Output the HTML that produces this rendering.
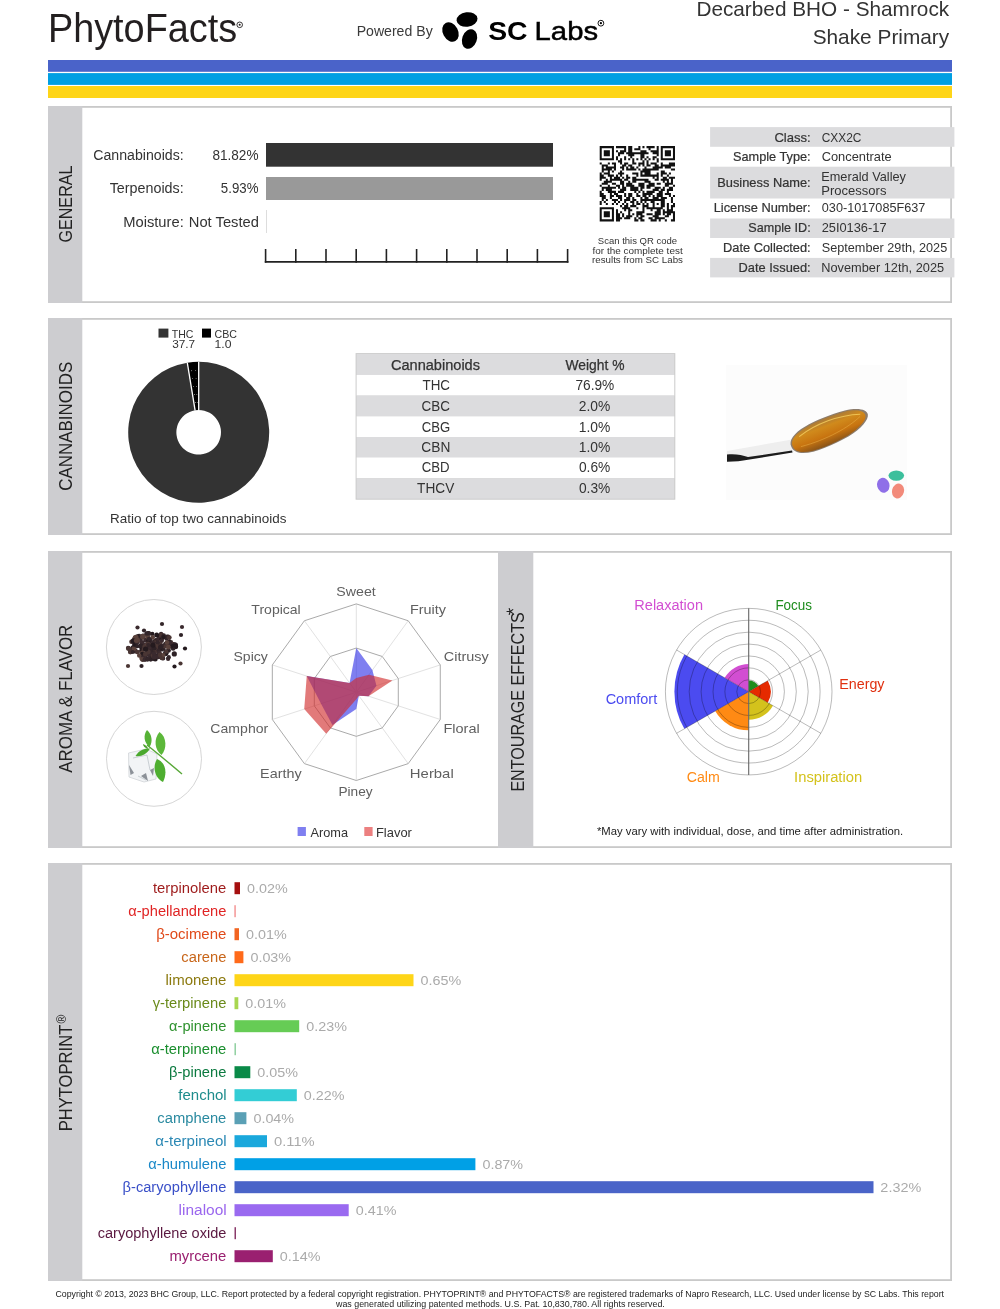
<!DOCTYPE html>
<html><head><meta charset="utf-8"><title>PhytoFacts</title>
<style>
html,body{margin:0;padding:0;background:#fff;width:1000px;height:1309px;overflow:hidden;}
svg{display:block;font-family:"Liberation Sans", sans-serif;will-change:transform;}
</style></head><body>
<svg width="1000" height="1309" viewBox="0 0 1000 1309">
<rect x="0" y="0" width="1000" height="1309" fill="#fff"/>
<text x="47.90" y="41.80" font-size="39.86" fill="#231f20" textLength="189.27" lengthAdjust="spacingAndGlyphs" >PhytoFacts</text>
<circle cx="239.7" cy="24.8" r="2.8" fill="none" stroke="#231f20" stroke-width="0.9"/><circle cx="239.7" cy="24.8" r="1.0" fill="#231f20"/>
<text x="356.64" y="35.70" font-size="14.49" fill="#3a3a3a" textLength="76.09" lengthAdjust="spacingAndGlyphs" >Powered By</text>
<g fill="#000"><ellipse cx="467" cy="19.5" rx="10.5" ry="7.3" transform="rotate(-6 467 19.5)"/><ellipse cx="450.5" cy="32" rx="7.6" ry="10.3" transform="rotate(-28 450.5 32)"/><ellipse cx="469.5" cy="39" rx="7.3" ry="10" transform="rotate(20 469.5 39)"/></g>
<text x="488.18" y="40.10" font-size="26.38" fill="#000" font-weight="bold" textLength="39.39" lengthAdjust="spacingAndGlyphs" >SC</text>
<text x="534.60" y="40.10" font-size="26.38" fill="#000" textLength="63.46" lengthAdjust="spacingAndGlyphs"  stroke="#000" stroke-width="0.5">Labs</text>
<circle cx="600.9" cy="23.2" r="2.9" fill="none" stroke="#000" stroke-width="0.9"/><circle cx="600.9" cy="23.2" r="1.1" fill="#000"/>
<text x="696.40" y="15.70" font-size="20.87" fill="#333" textLength="252.77" lengthAdjust="spacingAndGlyphs" >Decarbed BHO - Shamrock</text>
<text x="812.65" y="43.70" font-size="20.87" fill="#333" textLength="136.59" lengthAdjust="spacingAndGlyphs" >Shake Primary</text>
<rect x="48.00" y="60.00" width="904.00" height="11.80" fill="#4a63c9" />
<rect x="48.00" y="73.10" width="904.00" height="11.80" fill="#009fe3" />
<rect x="48.00" y="86.00" width="904.00" height="12.00" fill="#fed518" />
<rect x="48.00" y="106.00" width="904.00" height="197.00" fill="#c9c9c9" />
<rect x="49.80" y="107.80" width="900.40" height="193.40" fill="#fff" />
<rect x="48.00" y="106.00" width="34.30" height="197.00" fill="#cdcdd0" />
<text transform="translate(72.20,242.61) rotate(-90)" x="0" y="0" font-size="18.99" fill="#222" textLength="77.15" lengthAdjust="spacingAndGlyphs">GENERAL</text>
<text x="93.28" y="159.60" font-size="13.91" fill="#333" textLength="90.41" lengthAdjust="spacingAndGlyphs" >Cannabinoids:</text>
<text x="212.41" y="159.60" font-size="13.91" fill="#333" textLength="46.07" lengthAdjust="spacingAndGlyphs" >81.82%</text>
<text x="109.68" y="193.00" font-size="13.91" fill="#333" textLength="74.03" lengthAdjust="spacingAndGlyphs" >Terpenoids:</text>
<text x="220.87" y="193.00" font-size="13.91" fill="#333" textLength="37.60" lengthAdjust="spacingAndGlyphs" >5.93%</text>
<text x="123.19" y="226.60" font-size="13.91" fill="#333" textLength="60.55" lengthAdjust="spacingAndGlyphs" >Moisture:</text>
<text x="188.79" y="226.60" font-size="13.91" fill="#333" textLength="70.16" lengthAdjust="spacingAndGlyphs" >Not Tested</text>
<rect x="266.00" y="143.00" width="287.00" height="23.70" fill="#333333" />
<rect x="266.00" y="177.00" width="287.00" height="23.00" fill="#999999" />
<rect x="266.00" y="210.00" width="1.00" height="23.00" fill="#dddddd" />
<g stroke="#222" stroke-width="1.6" fill="none">
<line x1="264.8" y1="261.9" x2="568.4" y2="261.9"/>
<line x1="265.60" y1="249" x2="265.60" y2="262.7"/>
<line x1="295.80" y1="249" x2="295.80" y2="262.7"/>
<line x1="326.00" y1="249" x2="326.00" y2="262.7"/>
<line x1="356.20" y1="249" x2="356.20" y2="262.7"/>
<line x1="386.40" y1="249" x2="386.40" y2="262.7"/>
<line x1="416.60" y1="249" x2="416.60" y2="262.7"/>
<line x1="446.80" y1="249" x2="446.80" y2="262.7"/>
<line x1="477.00" y1="249" x2="477.00" y2="262.7"/>
<line x1="507.20" y1="249" x2="507.20" y2="262.7"/>
<line x1="537.40" y1="249" x2="537.40" y2="262.7"/>
<line x1="567.60" y1="249" x2="567.60" y2="262.7"/>
</g>
<path fill="#111" d="M599.70 146.10h14.25v2.04h-14.25zM615.98 146.10h10.18v2.04h-10.18zM628.19 146.10h4.07v2.04h-4.07zM638.37 146.10h2.04v2.04h-2.04zM642.44 146.10h2.04v2.04h-2.04zM646.51 146.10h8.14v2.04h-8.14zM656.68 146.10h2.04v2.04h-2.04zM660.75 146.10h14.25v2.04h-14.25zM599.70 148.14h2.04v2.04h-2.04zM611.91 148.14h2.04v2.04h-2.04zM624.12 148.14h2.04v2.04h-2.04zM628.19 148.14h4.07v2.04h-4.07zM634.30 148.14h6.11v2.04h-6.11zM648.54 148.14h2.04v2.04h-2.04zM656.68 148.14h2.04v2.04h-2.04zM660.75 148.14h2.04v2.04h-2.04zM672.96 148.14h2.04v2.04h-2.04zM599.70 150.17h2.04v2.04h-2.04zM603.77 150.17h6.11v2.04h-6.11zM611.91 150.17h2.04v2.04h-2.04zM615.98 150.17h2.04v2.04h-2.04zM620.05 150.17h6.11v2.04h-6.11zM628.19 150.17h4.07v2.04h-4.07zM640.40 150.17h6.11v2.04h-6.11zM650.58 150.17h8.14v2.04h-8.14zM660.75 150.17h2.04v2.04h-2.04zM664.82 150.17h6.11v2.04h-6.11zM672.96 150.17h2.04v2.04h-2.04zM599.70 152.21h2.04v2.04h-2.04zM603.77 152.21h6.11v2.04h-6.11zM611.91 152.21h2.04v2.04h-2.04zM618.02 152.21h6.11v2.04h-6.11zM626.16 152.21h22.39v2.04h-22.39zM652.61 152.21h6.11v2.04h-6.11zM660.75 152.21h2.04v2.04h-2.04zM664.82 152.21h6.11v2.04h-6.11zM672.96 152.21h2.04v2.04h-2.04zM599.70 154.24h2.04v2.04h-2.04zM603.77 154.24h6.11v2.04h-6.11zM611.91 154.24h2.04v2.04h-2.04zM618.02 154.24h2.04v2.04h-2.04zM628.19 154.24h6.11v2.04h-6.11zM640.40 154.24h4.07v2.04h-4.07zM656.68 154.24h2.04v2.04h-2.04zM660.75 154.24h2.04v2.04h-2.04zM664.82 154.24h6.11v2.04h-6.11zM672.96 154.24h2.04v2.04h-2.04zM599.70 156.28h2.04v2.04h-2.04zM611.91 156.28h2.04v2.04h-2.04zM615.98 156.28h2.04v2.04h-2.04zM624.12 156.28h2.04v2.04h-2.04zM630.23 156.28h2.04v2.04h-2.04zM640.40 156.28h4.07v2.04h-4.07zM646.51 156.28h2.04v2.04h-2.04zM652.61 156.28h4.07v2.04h-4.07zM660.75 156.28h2.04v2.04h-2.04zM672.96 156.28h2.04v2.04h-2.04zM599.70 158.31h14.25v2.04h-14.25zM615.98 158.31h2.04v2.04h-2.04zM620.05 158.31h2.04v2.04h-2.04zM624.12 158.31h2.04v2.04h-2.04zM628.19 158.31h2.04v2.04h-2.04zM632.26 158.31h2.04v2.04h-2.04zM636.33 158.31h2.04v2.04h-2.04zM640.40 158.31h2.04v2.04h-2.04zM644.47 158.31h2.04v2.04h-2.04zM648.54 158.31h2.04v2.04h-2.04zM652.61 158.31h2.04v2.04h-2.04zM656.68 158.31h2.04v2.04h-2.04zM660.75 158.31h14.25v2.04h-14.25zM618.02 160.35h4.07v2.04h-4.07zM632.26 160.35h2.04v2.04h-2.04zM642.44 160.35h2.04v2.04h-2.04zM646.51 160.35h2.04v2.04h-2.04zM656.68 160.35h2.04v2.04h-2.04zM599.70 162.38h2.04v2.04h-2.04zM607.84 162.38h2.04v2.04h-2.04zM611.91 162.38h4.07v2.04h-4.07zM620.05 162.38h2.04v2.04h-2.04zM624.12 162.38h4.07v2.04h-4.07zM632.26 162.38h4.07v2.04h-4.07zM638.37 162.38h6.11v2.04h-6.11zM646.51 162.38h2.04v2.04h-2.04zM650.58 162.38h6.11v2.04h-6.11zM660.75 162.38h2.04v2.04h-2.04zM668.89 162.38h6.11v2.04h-6.11zM601.74 164.42h6.11v2.04h-6.11zM613.95 164.42h2.04v2.04h-2.04zM622.09 164.42h4.07v2.04h-4.07zM628.19 164.42h4.07v2.04h-4.07zM638.37 164.42h2.04v2.04h-2.04zM642.44 164.42h2.04v2.04h-2.04zM646.51 164.42h4.07v2.04h-4.07zM654.65 164.42h4.07v2.04h-4.07zM660.75 164.42h14.25v2.04h-14.25zM601.74 166.45h2.04v2.04h-2.04zM605.81 166.45h10.18v2.04h-10.18zM620.05 166.45h4.07v2.04h-4.07zM626.16 166.45h2.04v2.04h-2.04zM630.23 166.45h4.07v2.04h-4.07zM636.33 166.45h2.04v2.04h-2.04zM644.47 166.45h2.04v2.04h-2.04zM652.61 166.45h10.18v2.04h-10.18zM664.82 166.45h6.11v2.04h-6.11zM601.74 168.49h10.18v2.04h-10.18zM613.95 168.49h2.04v2.04h-2.04zM622.09 168.49h2.04v2.04h-2.04zM626.16 168.49h10.18v2.04h-10.18zM638.37 168.49h2.04v2.04h-2.04zM642.44 168.49h16.28v2.04h-16.28zM670.93 168.49h4.07v2.04h-4.07zM601.74 170.52h2.04v2.04h-2.04zM607.84 170.52h2.04v2.04h-2.04zM611.91 170.52h2.04v2.04h-2.04zM620.05 170.52h2.04v2.04h-2.04zM640.40 170.52h10.18v2.04h-10.18zM660.75 170.52h4.07v2.04h-4.07zM599.70 172.56h2.04v2.04h-2.04zM603.77 172.56h6.11v2.04h-6.11zM618.02 172.56h6.11v2.04h-6.11zM632.26 172.56h6.11v2.04h-6.11zM640.40 172.56h2.04v2.04h-2.04zM644.47 172.56h6.11v2.04h-6.11zM656.68 172.56h2.04v2.04h-2.04zM660.75 172.56h6.11v2.04h-6.11zM668.89 172.56h2.04v2.04h-2.04zM599.70 174.59h4.07v2.04h-4.07zM607.84 174.59h6.11v2.04h-6.11zM615.98 174.59h2.04v2.04h-2.04zM620.05 174.59h2.04v2.04h-2.04zM626.16 174.59h2.04v2.04h-2.04zM636.33 174.59h2.04v2.04h-2.04zM640.40 174.59h18.32v2.04h-18.32zM660.75 174.59h2.04v2.04h-2.04zM666.86 174.59h2.04v2.04h-2.04zM599.70 176.63h6.11v2.04h-6.11zM609.88 176.63h2.04v2.04h-2.04zM613.95 176.63h6.11v2.04h-6.11zM622.09 176.63h2.04v2.04h-2.04zM626.16 176.63h4.07v2.04h-4.07zM632.26 176.63h4.07v2.04h-4.07zM652.61 176.63h2.04v2.04h-2.04zM656.68 176.63h2.04v2.04h-2.04zM662.79 176.63h4.07v2.04h-4.07zM668.89 176.63h6.11v2.04h-6.11zM599.70 178.66h2.04v2.04h-2.04zM605.81 178.66h2.04v2.04h-2.04zM609.88 178.66h12.21v2.04h-12.21zM624.12 178.66h4.07v2.04h-4.07zM632.26 178.66h16.28v2.04h-16.28zM654.65 178.66h4.07v2.04h-4.07zM660.75 178.66h8.14v2.04h-8.14zM670.93 178.66h2.04v2.04h-2.04zM603.77 180.70h8.14v2.04h-8.14zM620.05 180.70h4.07v2.04h-4.07zM628.19 180.70h2.04v2.04h-2.04zM632.26 180.70h4.07v2.04h-4.07zM644.47 180.70h6.11v2.04h-6.11zM662.79 180.70h2.04v2.04h-2.04zM666.86 180.70h2.04v2.04h-2.04zM670.93 180.70h2.04v2.04h-2.04zM601.74 182.73h6.11v2.04h-6.11zM611.91 182.73h4.07v2.04h-4.07zM620.05 182.73h4.07v2.04h-4.07zM626.16 182.73h6.11v2.04h-6.11zM638.37 182.73h6.11v2.04h-6.11zM648.54 182.73h6.11v2.04h-6.11zM656.68 182.73h4.07v2.04h-4.07zM664.82 182.73h8.14v2.04h-8.14zM599.70 184.77h2.04v2.04h-2.04zM607.84 184.77h2.04v2.04h-2.04zM615.98 184.77h4.07v2.04h-4.07zM622.09 184.77h2.04v2.04h-2.04zM626.16 184.77h8.14v2.04h-8.14zM638.37 184.77h6.11v2.04h-6.11zM646.51 184.77h8.14v2.04h-8.14zM664.82 184.77h4.07v2.04h-4.07zM672.96 184.77h2.04v2.04h-2.04zM601.74 186.80h14.25v2.04h-14.25zM618.02 186.80h2.04v2.04h-2.04zM622.09 186.80h4.07v2.04h-4.07zM630.23 186.80h8.14v2.04h-8.14zM640.40 186.80h4.07v2.04h-4.07zM646.51 186.80h4.07v2.04h-4.07zM654.65 186.80h6.11v2.04h-6.11zM662.79 186.80h2.04v2.04h-2.04zM668.89 186.80h4.07v2.04h-4.07zM601.74 188.84h2.04v2.04h-2.04zM605.81 188.84h6.11v2.04h-6.11zM620.05 188.84h6.11v2.04h-6.11zM630.23 188.84h8.14v2.04h-8.14zM640.40 188.84h2.04v2.04h-2.04zM652.61 188.84h6.11v2.04h-6.11zM660.75 188.84h4.07v2.04h-4.07zM666.86 188.84h6.11v2.04h-6.11zM599.70 190.87h2.04v2.04h-2.04zM607.84 190.87h8.14v2.04h-8.14zM618.02 190.87h6.11v2.04h-6.11zM634.30 190.87h2.04v2.04h-2.04zM638.37 190.87h2.04v2.04h-2.04zM642.44 190.87h2.04v2.04h-2.04zM646.51 190.87h8.14v2.04h-8.14zM658.72 190.87h4.07v2.04h-4.07zM666.86 190.87h2.04v2.04h-2.04zM599.70 192.91h4.07v2.04h-4.07zM609.88 192.91h2.04v2.04h-2.04zM613.95 192.91h4.07v2.04h-4.07zM624.12 192.91h2.04v2.04h-2.04zM628.19 192.91h4.07v2.04h-4.07zM636.33 192.91h2.04v2.04h-2.04zM642.44 192.91h10.18v2.04h-10.18zM656.68 192.91h6.11v2.04h-6.11zM664.82 192.91h6.11v2.04h-6.11zM599.70 194.94h6.11v2.04h-6.11zM609.88 194.94h4.07v2.04h-4.07zM615.98 194.94h6.11v2.04h-6.11zM624.12 194.94h2.04v2.04h-2.04zM628.19 194.94h4.07v2.04h-4.07zM636.33 194.94h4.07v2.04h-4.07zM642.44 194.94h4.07v2.04h-4.07zM648.54 194.94h2.04v2.04h-2.04zM652.61 194.94h2.04v2.04h-2.04zM656.68 194.94h6.11v2.04h-6.11zM668.89 194.94h2.04v2.04h-2.04zM672.96 194.94h2.04v2.04h-2.04zM601.74 196.98h4.07v2.04h-4.07zM609.88 196.98h2.04v2.04h-2.04zM618.02 196.98h4.07v2.04h-4.07zM626.16 196.98h4.07v2.04h-4.07zM632.26 196.98h2.04v2.04h-2.04zM640.40 196.98h2.04v2.04h-2.04zM644.47 196.98h4.07v2.04h-4.07zM652.61 196.98h6.11v2.04h-6.11zM660.75 196.98h6.11v2.04h-6.11zM670.93 196.98h2.04v2.04h-2.04zM601.74 199.01h2.04v2.04h-2.04zM605.81 199.01h2.04v2.04h-2.04zM611.91 199.01h6.11v2.04h-6.11zM620.05 199.01h2.04v2.04h-2.04zM624.12 199.01h6.11v2.04h-6.11zM632.26 199.01h4.07v2.04h-4.07zM640.40 199.01h24.42v2.04h-24.42zM670.93 199.01h2.04v2.04h-2.04zM599.70 201.05h2.04v2.04h-2.04zM603.77 201.05h2.04v2.04h-2.04zM613.95 201.05h2.04v2.04h-2.04zM618.02 201.05h2.04v2.04h-2.04zM624.12 201.05h2.04v2.04h-2.04zM630.23 201.05h4.07v2.04h-4.07zM636.33 201.05h2.04v2.04h-2.04zM640.40 201.05h2.04v2.04h-2.04zM644.47 201.05h2.04v2.04h-2.04zM650.58 201.05h4.07v2.04h-4.07zM660.75 201.05h4.07v2.04h-4.07zM670.93 201.05h2.04v2.04h-2.04zM599.70 203.08h2.04v2.04h-2.04zM605.81 203.08h2.04v2.04h-2.04zM611.91 203.08h2.04v2.04h-2.04zM615.98 203.08h2.04v2.04h-2.04zM622.09 203.08h2.04v2.04h-2.04zM626.16 203.08h2.04v2.04h-2.04zM632.26 203.08h2.04v2.04h-2.04zM636.33 203.08h4.07v2.04h-4.07zM642.44 203.08h2.04v2.04h-2.04zM646.51 203.08h2.04v2.04h-2.04zM652.61 203.08h2.04v2.04h-2.04zM656.68 203.08h2.04v2.04h-2.04zM660.75 203.08h4.07v2.04h-4.07zM666.86 203.08h2.04v2.04h-2.04zM672.96 203.08h2.04v2.04h-2.04zM620.05 205.12h2.04v2.04h-2.04zM624.12 205.12h4.07v2.04h-4.07zM630.23 205.12h6.11v2.04h-6.11zM642.44 205.12h6.11v2.04h-6.11zM652.61 205.12h2.04v2.04h-2.04zM660.75 205.12h4.07v2.04h-4.07zM666.86 205.12h2.04v2.04h-2.04zM670.93 205.12h4.07v2.04h-4.07zM599.70 207.15h14.25v2.04h-14.25zM622.09 207.15h8.14v2.04h-8.14zM636.33 207.15h2.04v2.04h-2.04zM642.44 207.15h2.04v2.04h-2.04zM646.51 207.15h16.28v2.04h-16.28zM666.86 207.15h2.04v2.04h-2.04zM670.93 207.15h2.04v2.04h-2.04zM599.70 209.19h2.04v2.04h-2.04zM611.91 209.19h2.04v2.04h-2.04zM615.98 209.19h2.04v2.04h-2.04zM624.12 209.19h2.04v2.04h-2.04zM628.19 209.19h4.07v2.04h-4.07zM642.44 209.19h2.04v2.04h-2.04zM650.58 209.19h2.04v2.04h-2.04zM656.68 209.19h4.07v2.04h-4.07zM662.79 209.19h2.04v2.04h-2.04zM666.86 209.19h6.11v2.04h-6.11zM599.70 211.22h2.04v2.04h-2.04zM603.77 211.22h6.11v2.04h-6.11zM611.91 211.22h2.04v2.04h-2.04zM615.98 211.22h2.04v2.04h-2.04zM620.05 211.22h2.04v2.04h-2.04zM628.19 211.22h2.04v2.04h-2.04zM636.33 211.22h8.14v2.04h-8.14zM654.65 211.22h6.11v2.04h-6.11zM662.79 211.22h12.21v2.04h-12.21zM599.70 213.26h2.04v2.04h-2.04zM603.77 213.26h6.11v2.04h-6.11zM611.91 213.26h2.04v2.04h-2.04zM615.98 213.26h4.07v2.04h-4.07zM622.09 213.26h2.04v2.04h-2.04zM628.19 213.26h2.04v2.04h-2.04zM632.26 213.26h2.04v2.04h-2.04zM636.33 213.26h6.11v2.04h-6.11zM646.51 213.26h6.11v2.04h-6.11zM654.65 213.26h6.11v2.04h-6.11zM662.79 213.26h2.04v2.04h-2.04zM666.86 213.26h4.07v2.04h-4.07zM672.96 213.26h2.04v2.04h-2.04zM599.70 215.29h2.04v2.04h-2.04zM603.77 215.29h6.11v2.04h-6.11zM611.91 215.29h2.04v2.04h-2.04zM615.98 215.29h4.07v2.04h-4.07zM622.09 215.29h2.04v2.04h-2.04zM626.16 215.29h6.11v2.04h-6.11zM636.33 215.29h2.04v2.04h-2.04zM640.40 215.29h4.07v2.04h-4.07zM652.61 215.29h6.11v2.04h-6.11zM664.82 215.29h4.07v2.04h-4.07zM672.96 215.29h2.04v2.04h-2.04zM599.70 217.33h2.04v2.04h-2.04zM611.91 217.33h2.04v2.04h-2.04zM615.98 217.33h6.11v2.04h-6.11zM624.12 217.33h6.11v2.04h-6.11zM634.30 217.33h2.04v2.04h-2.04zM638.37 217.33h4.07v2.04h-4.07zM648.54 217.33h4.07v2.04h-4.07zM654.65 217.33h10.18v2.04h-10.18zM672.96 217.33h2.04v2.04h-2.04zM599.70 219.36h14.25v2.04h-14.25zM615.98 219.36h4.07v2.04h-4.07zM634.30 219.36h4.07v2.04h-4.07zM640.40 219.36h4.07v2.04h-4.07zM650.58 219.36h6.11v2.04h-6.11zM658.72 219.36h2.04v2.04h-2.04zM664.82 219.36h2.04v2.04h-2.04zM670.93 219.36h4.07v2.04h-4.07z"/>
<text x="597.87" y="244.30" font-size="9.71" fill="#333" textLength="79.25" lengthAdjust="spacingAndGlyphs" >Scan this QR code</text>
<text x="592.56" y="253.90" font-size="9.71" fill="#333" textLength="90.11" lengthAdjust="spacingAndGlyphs" >for the complete test</text>
<text x="592.05" y="263.20" font-size="9.71" fill="#333" textLength="90.90" lengthAdjust="spacingAndGlyphs" >results from SC Labs</text>
<rect x="710.10" y="127.10" width="244.30" height="19.70" fill="#dcdcde" />
<text x="774.44" y="141.70" font-size="13.62" fill="#333" textLength="36.26" lengthAdjust="spacingAndGlyphs"  stroke="#333" stroke-width="0.22">Class:</text>
<text x="821.69" y="141.70" font-size="13.62" fill="#333" textLength="39.76" lengthAdjust="spacingAndGlyphs" >CXX2C</text>
<text x="733.02" y="161.30" font-size="13.62" fill="#333" textLength="77.64" lengthAdjust="spacingAndGlyphs"  stroke="#333" stroke-width="0.22">Sample Type:</text>
<text x="821.65" y="161.30" font-size="13.62" fill="#333" textLength="70.03" lengthAdjust="spacingAndGlyphs" >Concentrate</text>
<rect x="710.10" y="166.70" width="244.30" height="31.80" fill="#dcdcde" />
<text x="717.25" y="186.80" font-size="13.62" fill="#333" textLength="93.43" lengthAdjust="spacingAndGlyphs"  stroke="#333" stroke-width="0.22">Business Name:</text>
<text x="821.25" y="180.80" font-size="13.62" fill="#333" textLength="84.67" lengthAdjust="spacingAndGlyphs" >Emerald Valley</text>
<text x="821.23" y="194.80" font-size="13.62" fill="#333" textLength="65.24" lengthAdjust="spacingAndGlyphs" >Processors</text>
<text x="713.65" y="212.30" font-size="13.62" fill="#333" textLength="97.03" lengthAdjust="spacingAndGlyphs"  stroke="#333" stroke-width="0.22">License Number:</text>
<text x="821.80" y="212.30" font-size="13.62" fill="#333" textLength="103.63" lengthAdjust="spacingAndGlyphs" >030-1017085F637</text>
<rect x="710.10" y="218.50" width="244.30" height="19.50" fill="#dcdcde" />
<text x="748.33" y="232.30" font-size="13.62" fill="#333" textLength="62.32" lengthAdjust="spacingAndGlyphs"  stroke="#333" stroke-width="0.22">Sample ID:</text>
<text x="821.65" y="232.30" font-size="13.62" fill="#333" textLength="64.89" lengthAdjust="spacingAndGlyphs" >25I0136-17</text>
<text x="723.05" y="252.00" font-size="13.62" fill="#333" textLength="87.62" lengthAdjust="spacingAndGlyphs"  stroke="#333" stroke-width="0.22">Date Collected:</text>
<text x="821.72" y="252.00" font-size="13.62" fill="#333" textLength="125.51" lengthAdjust="spacingAndGlyphs" >September 29th, 2025</text>
<rect x="710.10" y="257.90" width="244.30" height="19.50" fill="#dcdcde" />
<text x="738.55" y="271.80" font-size="13.62" fill="#333" textLength="72.13" lengthAdjust="spacingAndGlyphs"  stroke="#333" stroke-width="0.22">Date Issued:</text>
<text x="821.25" y="271.80" font-size="13.62" fill="#333" textLength="122.89" lengthAdjust="spacingAndGlyphs" >November 12th, 2025</text>
<rect x="48.00" y="318.00" width="904.00" height="217.00" fill="#c9c9c9" />
<rect x="49.80" y="319.80" width="900.40" height="213.40" fill="#fff" />
<rect x="48.00" y="318.00" width="34.30" height="217.00" fill="#cdcdd0" />
<text transform="translate(72.00,490.86) rotate(-90)" x="0" y="0" font-size="18.84" fill="#222" textLength="129.14" lengthAdjust="spacingAndGlyphs">CANNABINOIDS</text>
<rect x="158.50" y="328.60" width="9.90" height="9.00" fill="#333" />
<text x="171.76" y="337.60" font-size="11.45" fill="#333" textLength="21.64" lengthAdjust="spacingAndGlyphs" >THC</text>
<text x="172.15" y="348.40" font-size="11.45" fill="#333" textLength="22.94" lengthAdjust="spacingAndGlyphs" >37.7</text>
<rect x="202.00" y="328.60" width="9.00" height="9.00" fill="#000" />
<text x="214.46" y="337.60" font-size="11.45" fill="#333" textLength="22.45" lengthAdjust="spacingAndGlyphs" >CBC</text>
<text x="214.57" y="348.40" font-size="11.45" fill="#333" textLength="16.90" lengthAdjust="spacingAndGlyphs" >1.0</text>
<path d="M198.70 361.80A70.5 70.5 0 1 1 187.29 362.73L195.09 410.29A22.3 22.3 0 1 0 198.70 410.00Z" fill="#333333"/>
<path d="M187.30 362.73A70.5 70.5 0 0 1 198.69 361.80L198.70 410.00A22.3 22.3 0 0 0 195.10 410.29Z" fill="#000000"/>
<circle cx="197.24" cy="402.34" r="0.45" fill="#fff"/>
<circle cx="195.30" cy="402.49" r="0.45" fill="#fff"/>
<circle cx="196.85" cy="394.35" r="0.45" fill="#fff"/>
<circle cx="194.39" cy="394.55" r="0.45" fill="#fff"/>
<circle cx="196.46" cy="386.35" r="0.45" fill="#fff"/>
<circle cx="193.48" cy="386.60" r="0.45" fill="#fff"/>
<circle cx="196.07" cy="378.36" r="0.45" fill="#fff"/>
<circle cx="192.58" cy="378.65" r="0.45" fill="#fff"/>
<circle cx="195.68" cy="370.37" r="0.45" fill="#fff"/>
<circle cx="191.67" cy="370.70" r="0.45" fill="#fff"/>
<line x1="198.70" y1="410.00" x2="198.70" y2="361.80" stroke="#fff" stroke-width="1.3"/>
<line x1="195.10" y1="410.29" x2="187.30" y2="362.73" stroke="#fff" stroke-width="1.3"/>
<text x="110.00" y="523.00" font-size="13.33" fill="#333" textLength="176.49" lengthAdjust="spacingAndGlyphs" >Ratio of top two cannabinoids</text>
<rect x="355.60" y="353.10" width="319.70" height="146.60" fill="#cbcbcb" />
<rect x="356.60" y="354.00" width="317.70" height="20.90" fill="#dcdcde" />
<rect x="356.60" y="374.90" width="317.70" height="20.70" fill="#ffffff" />
<rect x="356.60" y="395.60" width="317.70" height="20.70" fill="#dcdcde" />
<rect x="356.60" y="416.30" width="317.70" height="20.70" fill="#ffffff" />
<rect x="356.60" y="437.00" width="317.70" height="20.40" fill="#dcdcde" />
<rect x="356.60" y="457.40" width="317.70" height="20.80" fill="#ffffff" />
<rect x="356.60" y="478.20" width="317.70" height="20.50" fill="#dcdcde" />
<text x="390.91" y="369.60" font-size="14.06" fill="#333" textLength="89.12" lengthAdjust="spacingAndGlyphs"  stroke="#333" stroke-width="0.25">Cannabinoids</text>
<text x="565.54" y="369.60" font-size="14.06" fill="#333" textLength="58.95" lengthAdjust="spacingAndGlyphs"  stroke="#333" stroke-width="0.25">Weight %</text>
<text x="422.50" y="389.65" font-size="14.06" fill="#333" textLength="27.51" lengthAdjust="spacingAndGlyphs" >THC</text>
<text x="575.40" y="389.65" font-size="14.06" fill="#333" textLength="38.89" lengthAdjust="spacingAndGlyphs" >76.9%</text>
<text x="421.62" y="410.60" font-size="14.06" fill="#333" textLength="28.40" lengthAdjust="spacingAndGlyphs" >CBC</text>
<text x="578.80" y="410.60" font-size="14.06" fill="#333" textLength="31.49" lengthAdjust="spacingAndGlyphs" >2.0%</text>
<text x="421.73" y="431.60" font-size="14.06" fill="#333" textLength="28.45" lengthAdjust="spacingAndGlyphs" >CBG</text>
<text x="578.75" y="431.60" font-size="14.06" fill="#333" textLength="31.55" lengthAdjust="spacingAndGlyphs" >1.0%</text>
<text x="421.30" y="452.00" font-size="14.06" fill="#333" textLength="29.02" lengthAdjust="spacingAndGlyphs" >CBN</text>
<text x="578.75" y="452.00" font-size="14.06" fill="#333" textLength="31.55" lengthAdjust="spacingAndGlyphs" >1.0%</text>
<text x="421.73" y="472.40" font-size="14.06" fill="#333" textLength="27.90" lengthAdjust="spacingAndGlyphs" >CBD</text>
<text x="578.96" y="472.40" font-size="14.06" fill="#333" textLength="31.33" lengthAdjust="spacingAndGlyphs" >0.6%</text>
<text x="417.09" y="493.20" font-size="14.06" fill="#333" textLength="37.17" lengthAdjust="spacingAndGlyphs" >THCV</text>
<text x="578.96" y="493.20" font-size="14.06" fill="#333" textLength="31.33" lengthAdjust="spacingAndGlyphs" >0.3%</text>
<rect x="726" y="365" width="181" height="135" fill="#fcfcfc"/>
<defs><linearGradient id="hg" x1="0" y1="0" x2="0" y2="1"><stop offset="0" stop-color="#f4f4f4"/><stop offset="0.45" stop-color="#c8c8c8"/><stop offset="0.75" stop-color="#6a6a6a"/><stop offset="1" stop-color="#1a1a1a"/></linearGradient><linearGradient id="bowl" x1="0" y1="0" x2="0" y2="1"><stop offset="0" stop-color="#a87a3a"/><stop offset="0.3" stop-color="#d08a1c"/><stop offset="0.65" stop-color="#c87410"/><stop offset="1" stop-color="#8a5418"/></linearGradient></defs>
<path d="M727 451 L792 439.5 L794 452 L727 462 Z" fill="#eeeeee"/>
<path d="M727 454.5 C735 453.5 742 455 748 457 L792 450.5 L792.5 452.5 L748 459.8 C742 461 735 461.8 727 461.8 Z" fill="#1c1c1c"/>
<g transform="translate(829 430.5) rotate(-21)"><path d="M-41 2 C-42 -13 -8 -16 22 -13 C36 -11 43 -6 42 -1 C41 4 31 10 16 12.5 C-8 16 -40 17 -41 2Z" fill="#8c7c6c"/><path d="M-39.5 2 C-40.5 -12 -7 -15 22 -12 C34 -10 40 -5.5 39.5 -1 C39 3.5 29 9 15.5 11.5 C-8 15 -39 16 -39.5 2Z" fill="url(#bowl)"/><path d="M-30 -5 C-10 -11 15 -11 35 -4" stroke="#f6d060" stroke-width="1.1" fill="none" opacity="0.8"/><path d="M-32 5 C-5 8 20 4 34 -2" stroke="#f0b850" stroke-width="0.8" fill="none" opacity="0.5"/></g>
<ellipse cx="896.3" cy="475.6" rx="7.8" ry="5.2" fill="#3cbf9c"/>
<ellipse cx="883.3" cy="485.2" rx="6.2" ry="7.5" fill="#8f6fe8" transform="rotate(-15 883.3 485.2)"/>
<ellipse cx="898" cy="491" rx="6" ry="7.6" fill="#f28a7a" transform="rotate(15 898 491)"/>
<rect x="48.00" y="551.00" width="904.00" height="297.00" fill="#c9c9c9" />
<rect x="49.80" y="552.80" width="900.40" height="293.40" fill="#fff" />
<rect x="48.00" y="551.00" width="34.30" height="297.00" fill="#cdcdd0" />
<rect x="498.00" y="551.00" width="35.30" height="297.00" fill="#cdcdd0" />
<text transform="translate(72.40,772.73) rotate(-90)" x="0" y="0" font-size="18.84" fill="#222" textLength="148.02" lengthAdjust="spacingAndGlyphs">AROMA &amp; FLAVOR</text>
<text transform="translate(523.80,791.62) rotate(-90)" x="0" y="0" font-size="18.99" fill="#222" textLength="179.36" lengthAdjust="spacingAndGlyphs">ENTOURAGE EFFECTS</text>
<g stroke="#222" stroke-width="1.1" stroke-linecap="round"><line x1="507.00" y1="611.50" x2="510.2" y2="611.5"/><line x1="509.21" y1="614.54" x2="510.2" y2="611.5"/><line x1="512.79" y1="613.38" x2="510.2" y2="611.5"/><line x1="512.79" y1="609.62" x2="510.2" y2="611.5"/><line x1="509.21" y1="608.46" x2="510.2" y2="611.5"/></g>
<circle cx="153.9" cy="647" r="47.5" fill="#fff" stroke="#d6d6d6" stroke-width="1"/>
<circle cx="154" cy="758.8" r="47.5" fill="#fff" stroke="#d6d6d6" stroke-width="1"/>
<g><circle cx="151.2" cy="648.9" r="2.6" fill="#241a1e"/><circle cx="154.1" cy="657.1" r="2.1" fill="#5a423c"/><circle cx="152.9" cy="650.3" r="2.1" fill="#241a1e"/><circle cx="139.1" cy="636.3" r="2.5" fill="#34262a"/><circle cx="160.7" cy="649.1" r="2.2" fill="#241a1e"/><circle cx="161.9" cy="649.6" r="2.1" fill="#2e2226"/><circle cx="160.8" cy="654.4" r="2.2" fill="#5a423c"/><circle cx="170.3" cy="646.2" r="2.4" fill="#241a1e"/><circle cx="159.8" cy="643.8" r="2.3" fill="#2e2226"/><circle cx="161.5" cy="641.0" r="2.1" fill="#4a3634"/><circle cx="130.1" cy="650.6" r="2.1" fill="#2e2226"/><circle cx="169.2" cy="642.4" r="2.6" fill="#34262a"/><circle cx="173.2" cy="644.5" r="2.6" fill="#241a1e"/><circle cx="149.7" cy="649.2" r="2.1" fill="#34262a"/><circle cx="137.4" cy="636.4" r="2.2" fill="#241a1e"/><circle cx="162.1" cy="635.3" r="2.1" fill="#2e2226"/><circle cx="128.2" cy="648.0" r="2.3" fill="#34262a"/><circle cx="155.4" cy="645.3" r="2.1" fill="#34262a"/><circle cx="165.7" cy="643.7" r="2.2" fill="#241a1e"/><circle cx="146.2" cy="639.3" r="2.2" fill="#5a423c"/><circle cx="147.1" cy="658.6" r="2.1" fill="#241a1e"/><circle cx="152.3" cy="633.9" r="2.1" fill="#241a1e"/><circle cx="143.6" cy="655.6" r="2.2" fill="#4a3634"/><circle cx="143.1" cy="635.5" r="2.1" fill="#34262a"/><circle cx="141.2" cy="650.9" r="2.2" fill="#241a1e"/><circle cx="135.2" cy="650.9" r="2.5" fill="#3a2a2e"/><circle cx="168.2" cy="636.7" r="2.1" fill="#3a2a2e"/><circle cx="166.4" cy="638.7" r="2.1" fill="#34262a"/><circle cx="160.0" cy="648.0" r="2.4" fill="#241a1e"/><circle cx="173.1" cy="648.4" r="2.3" fill="#2e2226"/><circle cx="133.6" cy="648.9" r="2.2" fill="#34262a"/><circle cx="160.8" cy="639.4" r="2.5" fill="#5a423c"/><circle cx="152.8" cy="647.6" r="2.6" fill="#2e2226"/><circle cx="134.1" cy="647.9" r="2.4" fill="#5a423c"/><circle cx="156.5" cy="640.4" r="2.6" fill="#3a2a2e"/><circle cx="161.1" cy="633.9" r="2.2" fill="#3a2a2e"/><circle cx="147.2" cy="649.5" r="2.1" fill="#4a3634"/><circle cx="134.4" cy="647.1" r="2.2" fill="#34262a"/><circle cx="163.4" cy="648.6" r="2.1" fill="#2e2226"/><circle cx="173.9" cy="644.6" r="2.2" fill="#4a3634"/><circle cx="159.6" cy="646.0" r="2.4" fill="#4a3634"/><circle cx="149.3" cy="643.5" r="2.0" fill="#34262a"/><circle cx="161.2" cy="635.7" r="2.6" fill="#4a3634"/><circle cx="147.4" cy="652.8" r="2.5" fill="#241a1e"/><circle cx="148.1" cy="633.4" r="2.4" fill="#241a1e"/><circle cx="158.2" cy="649.7" r="2.0" fill="#34262a"/><circle cx="131.4" cy="641.7" r="2.2" fill="#4a3634"/><circle cx="149.8" cy="654.0" r="2.3" fill="#241a1e"/><circle cx="151.5" cy="648.3" r="2.3" fill="#5a423c"/><circle cx="130.5" cy="651.7" r="2.3" fill="#3a2a2e"/><circle cx="168.6" cy="650.4" r="2.3" fill="#2e2226"/><circle cx="142.8" cy="637.5" r="2.4" fill="#5a423c"/><circle cx="160.4" cy="644.7" r="2.5" fill="#4a3634"/><circle cx="145.7" cy="640.4" r="2.4" fill="#3a2a2e"/><circle cx="170.9" cy="642.2" r="2.3" fill="#4a3634"/><circle cx="134.8" cy="637.9" r="2.2" fill="#2e2226"/><circle cx="168.1" cy="658.8" r="2.2" fill="#3a2a2e"/><circle cx="133.4" cy="647.7" r="2.6" fill="#241a1e"/><circle cx="147.3" cy="648.0" r="2.4" fill="#34262a"/><circle cx="146.4" cy="635.3" r="2.0" fill="#5a423c"/><circle cx="154.6" cy="641.4" r="2.5" fill="#2e2226"/><circle cx="159.1" cy="643.8" r="2.1" fill="#4a3634"/><circle cx="136.3" cy="638.0" r="2.0" fill="#34262a"/><circle cx="156.2" cy="650.8" r="2.2" fill="#2e2226"/><circle cx="159.2" cy="637.8" r="2.3" fill="#3a2a2e"/><circle cx="166.3" cy="653.3" r="2.3" fill="#2e2226"/><circle cx="134.7" cy="641.9" r="2.2" fill="#34262a"/><circle cx="175.3" cy="645.2" r="2.6" fill="#3a2a2e"/><circle cx="150.6" cy="655.6" r="2.5" fill="#2e2226"/><circle cx="152.5" cy="658.4" r="2.2" fill="#241a1e"/><circle cx="151.9" cy="650.7" r="2.5" fill="#241a1e"/><circle cx="157.0" cy="651.1" r="2.3" fill="#4a3634"/><circle cx="152.7" cy="651.4" r="2.1" fill="#34262a"/><circle cx="174.3" cy="653.9" r="2.6" fill="#2e2226"/><circle cx="142.7" cy="659.3" r="2.6" fill="#4a3634"/><circle cx="157.8" cy="655.0" r="2.2" fill="#34262a"/><circle cx="169.3" cy="641.3" r="2.0" fill="#241a1e"/><circle cx="144.3" cy="645.4" r="2.2" fill="#2e2226"/><circle cx="142.6" cy="658.4" r="2.3" fill="#2e2226"/><circle cx="135.0" cy="643.7" r="2.5" fill="#3a2a2e"/><circle cx="173.2" cy="645.9" r="2.4" fill="#241a1e"/><circle cx="175.2" cy="645.0" r="2.6" fill="#2e2226"/><circle cx="165.3" cy="644.3" r="2.3" fill="#34262a"/><circle cx="152.7" cy="637.4" r="2.3" fill="#5a423c"/><circle cx="142.5" cy="652.8" r="2.6" fill="#5a423c"/><circle cx="141.9" cy="658.0" r="2.6" fill="#5a423c"/><circle cx="141.6" cy="647.8" r="2.2" fill="#2e2226"/><circle cx="154.2" cy="649.9" r="2.0" fill="#2e2226"/><circle cx="152.8" cy="644.2" r="2.5" fill="#5a423c"/><circle cx="155.2" cy="658.9" r="2.5" fill="#241a1e"/><circle cx="141.2" cy="647.2" r="2.1" fill="#241a1e"/><circle cx="174.3" cy="646.0" r="2.1" fill="#241a1e"/><circle cx="163.1" cy="658.4" r="2.1" fill="#2e2226"/><circle cx="161.6" cy="639.0" r="2.3" fill="#241a1e"/><circle cx="160.8" cy="635.5" r="2.3" fill="#4a3634"/><circle cx="165.9" cy="651.8" r="2.5" fill="#2e2226"/><circle cx="145.9" cy="645.1" r="2.3" fill="#3a2a2e"/><circle cx="158.5" cy="657.0" r="2.3" fill="#3a2a2e"/><circle cx="158.0" cy="656.7" r="2.4" fill="#3a2a2e"/><circle cx="142.0" cy="654.8" r="2.5" fill="#3a2a2e"/><circle cx="141.9" cy="642.6" r="2.6" fill="#3a2a2e"/><circle cx="163.9" cy="637.3" r="2.1" fill="#3a2a2e"/><circle cx="146.7" cy="645.6" r="2.6" fill="#5a423c"/><circle cx="163.8" cy="635.4" r="2.2" fill="#34262a"/><circle cx="155.1" cy="642.7" r="2.5" fill="#4a3634"/><circle cx="133.8" cy="648.7" r="2.5" fill="#5a423c"/><circle cx="168.0" cy="645.3" r="2.0" fill="#5a423c"/><circle cx="162.7" cy="657.9" r="2.3" fill="#3a2a2e"/><circle cx="134.3" cy="640.0" r="2.5" fill="#4a3634"/><circle cx="153.8" cy="654.6" r="2.2" fill="#241a1e"/><circle cx="147.9" cy="643.2" r="2.1" fill="#4a3634"/><circle cx="167.0" cy="636.7" r="2.3" fill="#34262a"/><circle cx="150.7" cy="659.3" r="2.4" fill="#2e2226"/><circle cx="148.8" cy="633.4" r="2.5" fill="#34262a"/><circle cx="175.7" cy="647.2" r="2.1" fill="#5a423c"/><circle cx="145.0" cy="659.5" r="2.4" fill="#3a2a2e"/><circle cx="167.8" cy="643.1" r="2.5" fill="#5a423c"/><circle cx="165.4" cy="653.7" r="2.5" fill="#241a1e"/><circle cx="135.2" cy="639.3" r="2.5" fill="#4a3634"/><circle cx="146.5" cy="633.4" r="2.2" fill="#34262a"/><circle cx="140.1" cy="639.9" r="2.2" fill="#3a2a2e"/><circle cx="153.5" cy="643.8" r="2.6" fill="#34262a"/><circle cx="134.9" cy="637.5" r="2.2" fill="#5a423c"/><circle cx="130.3" cy="652.1" r="2.4" fill="#4a3634"/><circle cx="150.2" cy="647.4" r="2.5" fill="#34262a"/><circle cx="142.8" cy="636.3" r="2.2" fill="#4a3634"/><circle cx="155.6" cy="647.0" r="2.6" fill="#5a423c"/><circle cx="151.7" cy="651.3" r="2.3" fill="#34262a"/><circle cx="148.3" cy="637.8" r="2.3" fill="#5a423c"/><circle cx="157.1" cy="644.6" r="2.3" fill="#4a3634"/><circle cx="155.3" cy="649.6" r="2.2" fill="#4a3634"/><circle cx="149.9" cy="640.6" r="2.6" fill="#34262a"/><circle cx="161.8" cy="640.4" r="2.0" fill="#3a2a2e"/><circle cx="158.6" cy="650.4" r="2.2" fill="#34262a"/><circle cx="151.5" cy="658.6" r="2.4" fill="#2e2226"/><circle cx="159.3" cy="652.9" r="2.2" fill="#3a2a2e"/><circle cx="149.3" cy="646.7" r="2.6" fill="#3a2a2e"/><circle cx="142.3" cy="653.8" r="2.0" fill="#241a1e"/><circle cx="147.8" cy="638.9" r="2.0" fill="#5a423c"/><circle cx="134.4" cy="644.6" r="2.1" fill="#241a1e"/><circle cx="148.4" cy="640.5" r="2.3" fill="#241a1e"/><circle cx="148.6" cy="654.4" r="2.5" fill="#3a2a2e"/><circle cx="136.1" cy="637.2" r="2.5" fill="#5a423c"/><circle cx="157.8" cy="642.6" r="2.2" fill="#34262a"/><circle cx="166.2" cy="651.7" r="2.1" fill="#4a3634"/><circle cx="162.6" cy="637.3" r="2.1" fill="#34262a"/><circle cx="140.8" cy="645.8" r="2.4" fill="#2e2226"/><circle cx="136.9" cy="641.9" r="2.5" fill="#34262a"/><circle cx="133.4" cy="640.9" r="2.6" fill="#241a1e"/><circle cx="149.0" cy="639.0" r="2.2" fill="#34262a"/><circle cx="167.6" cy="644.3" r="2.5" fill="#3a2a2e"/><circle cx="152.7" cy="654.1" r="2.2" fill="#3a2a2e"/><circle cx="148.0" cy="651.8" r="2.6" fill="#4a3634"/><circle cx="145.1" cy="655.1" r="2.5" fill="#3a2a2e"/><circle cx="148.1" cy="643.6" r="2.1" fill="#4a3634"/><circle cx="156.1" cy="646.3" r="2.4" fill="#4a3634"/><circle cx="147.6" cy="659.3" r="2.4" fill="#34262a"/><circle cx="145.4" cy="654.1" r="2.4" fill="#4a3634"/><circle cx="169.3" cy="637.6" r="2.4" fill="#4a3634"/><circle cx="142.5" cy="636.8" r="2.4" fill="#5a423c"/><circle cx="161.8" cy="657.9" r="2.4" fill="#4a3634"/><circle cx="152.9" cy="655.7" r="2.2" fill="#4a3634"/><circle cx="164.7" cy="646.5" r="2.1" fill="#4a3634"/><circle cx="160.2" cy="655.0" r="2.4" fill="#4a3634"/><circle cx="168.3" cy="646.9" r="2.5" fill="#5a423c"/><circle cx="154.3" cy="657.1" r="2.5" fill="#3a2a2e"/><circle cx="154.2" cy="648.2" r="2.3" fill="#2e2226"/><circle cx="163.6" cy="654.9" r="2.0" fill="#5a423c"/><circle cx="143.7" cy="649.1" r="2.2" fill="#4a3634"/><circle cx="168.8" cy="657.2" r="2.1" fill="#34262a"/><circle cx="156.7" cy="635.1" r="2.5" fill="#241a1e"/><circle cx="137.5" cy="640.2" r="2.5" fill="#5a423c"/><circle cx="144.5" cy="646.5" r="2.2" fill="#4a3634"/><circle cx="161.6" cy="646.1" r="2.3" fill="#34262a"/><circle cx="132.8" cy="652.0" r="2.0" fill="#34262a"/><circle cx="142.8" cy="636.0" r="2.3" fill="#5a423c"/><circle cx="160.3" cy="647.1" r="2.4" fill="#2e2226"/><circle cx="148.3" cy="645.1" r="2.1" fill="#34262a"/><circle cx="137.5" cy="652.1" r="2.4" fill="#4a3634"/><circle cx="137.5" cy="646.1" r="2.2" fill="#2e2226"/><circle cx="153.9" cy="653.6" r="2.2" fill="#3a2a2e"/><circle cx="163.6" cy="636.9" r="2.0" fill="#241a1e"/><circle cx="128.7" cy="648.4" r="2.5" fill="#4a3634"/><circle cx="136.2" cy="640.7" r="2.4" fill="#5a423c"/><circle cx="152.9" cy="645.3" r="2.5" fill="#241a1e"/><circle cx="139.2" cy="655.5" r="2.2" fill="#5a423c"/><circle cx="175.6" cy="646.6" r="2.5" fill="#241a1e"/><circle cx="145.6" cy="649.0" r="2.6" fill="#241a1e"/><circle cx="170.1" cy="642.7" r="2.1" fill="#3a2a2e"/><circle cx="166.9" cy="642.6" r="2.3" fill="#5a423c"/><circle cx="128" cy="666" r="2.1" fill="#4a3634"/><circle cx="141.5" cy="666" r="2.1" fill="#2e2226"/><circle cx="162" cy="624" r="2.1" fill="#34262a"/><circle cx="182" cy="627" r="2.1" fill="#3a2a2e"/><circle cx="181" cy="635" r="2.1" fill="#2e2226"/><circle cx="185" cy="648.5" r="2.1" fill="#241a1e"/><circle cx="180.5" cy="663.5" r="2.1" fill="#4a3634"/><circle cx="174.5" cy="666.5" r="2.1" fill="#241a1e"/><circle cx="137.5" cy="627.5" r="2.1" fill="#3a2a2e"/><circle cx="144" cy="630.5" r="2.1" fill="#34262a"/></g>
<g><path d="M128.5 753 L146 749 L157 754 L156 779 L144 782 L129 777 Z" fill="#f2f4f6" stroke="#d0d4d8" stroke-width="0.8"/><path d="M129 765 L130.5 775 L134 773 Z M141 776 L146 773 L148 781 Z M150 770 L154 768 L153 776 Z" fill="#6a7078" opacity="0.75"/><path d="M133 758 L147 755 L150 770 M138 776 L146 780" stroke="#b8bec4" stroke-width="0.7" fill="none"/><path d="M147 745 Q162 757 182 774" stroke="#58a838" stroke-width="1.4" fill="none"/><path d="M147 730 C152 734 153 742 149.5 747 C144 743 143 735 147 730Z" fill="#56b236"/><path d="M159.5 732 C167 737 167 749 161.5 755 C154.5 750 153.5 739 159.5 732Z" fill="#5cb83a"/><path d="M135.5 756 C139 750 145 748 150 748.5 C147 754 141 757 135.5 756Z" fill="#4aa82e"/><path d="M157 759 C165 762 168 772 163 782 C155 778 152 767 157 759Z" fill="#4eae30"/><path d="M143 744 C146 745 148 747 148 749 C145 748 143 746 143 744Z" fill="#4aa02a"/></g>
<g fill="none">
<line x1="356.3" y1="692.2" x2="356.30" y2="603.90" stroke="#e2e2e2" stroke-width="1"/>
<line x1="356.3" y1="692.2" x2="408.20" y2="620.76" stroke="#e2e2e2" stroke-width="1"/>
<line x1="356.3" y1="692.2" x2="440.28" y2="664.91" stroke="#e2e2e2" stroke-width="1"/>
<line x1="356.3" y1="692.2" x2="440.28" y2="719.49" stroke="#e2e2e2" stroke-width="1"/>
<line x1="356.3" y1="692.2" x2="408.20" y2="763.64" stroke="#e2e2e2" stroke-width="1"/>
<line x1="356.3" y1="692.2" x2="356.30" y2="780.50" stroke="#e2e2e2" stroke-width="1"/>
<line x1="356.3" y1="692.2" x2="304.40" y2="763.64" stroke="#e2e2e2" stroke-width="1"/>
<line x1="356.3" y1="692.2" x2="272.32" y2="719.49" stroke="#e2e2e2" stroke-width="1"/>
<line x1="356.3" y1="692.2" x2="272.32" y2="664.91" stroke="#e2e2e2" stroke-width="1"/>
<line x1="356.3" y1="692.2" x2="304.40" y2="620.76" stroke="#e2e2e2" stroke-width="1"/>
<polygon points="356.30,648.05 382.25,656.48 398.29,678.56 398.29,705.84 382.25,727.92 356.30,736.35 330.35,727.92 314.31,705.84 314.31,678.56 330.35,656.48" stroke="#aaaaaa" stroke-width="1"/>
<polygon points="356.30,603.90 408.20,620.76 440.28,664.91 440.28,719.49 408.20,763.64 356.30,780.50 304.40,763.64 272.32,719.49 272.32,664.91 304.40,620.76" stroke="#aaaaaa" stroke-width="1"/>
</g>
<polygon points="356.30,648.05 372.39,670.05 376.45,685.65 368.48,696.16 358.90,695.77 356.30,708.98 332.43,725.06 321.03,703.66 306.75,676.10 349.55,682.91" fill="#2a2ae6" fill-opacity="0.6"/>
<polygon points="356.30,678.07 369.02,674.70 392.41,680.47 368.48,696.16 358.90,695.77 356.30,699.26 326.20,733.63 304.23,709.12 306.75,676.10 349.55,682.91" fill="#d02828" fill-opacity="0.62"/>
<text x="336.35" y="596.30" font-size="12.90" fill="#606060" textLength="39.45" lengthAdjust="spacingAndGlyphs" >Sweet</text>
<text x="251.38" y="614.00" font-size="12.90" fill="#606060" textLength="49.35" lengthAdjust="spacingAndGlyphs" >Tropical</text>
<text x="409.92" y="614.00" font-size="12.90" fill="#606060" textLength="36.01" lengthAdjust="spacingAndGlyphs" >Fruity</text>
<text x="233.46" y="660.80" font-size="12.90" fill="#606060" textLength="34.37" lengthAdjust="spacingAndGlyphs" >Spicy</text>
<text x="443.86" y="660.80" font-size="12.90" fill="#606060" textLength="44.96" lengthAdjust="spacingAndGlyphs" >Citrusy</text>
<text x="210.38" y="732.50" font-size="12.90" fill="#606060" textLength="57.85" lengthAdjust="spacingAndGlyphs" >Camphor</text>
<text x="443.41" y="732.50" font-size="12.90" fill="#606060" textLength="36.26" lengthAdjust="spacingAndGlyphs" >Floral</text>
<text x="260.12" y="778.30" font-size="12.90" fill="#606060" textLength="41.51" lengthAdjust="spacingAndGlyphs" >Earthy</text>
<text x="409.88" y="778.30" font-size="12.90" fill="#606060" textLength="43.82" lengthAdjust="spacingAndGlyphs" >Herbal</text>
<text x="338.48" y="796.00" font-size="12.90" fill="#606060" textLength="34.15" lengthAdjust="spacingAndGlyphs" >Piney</text>
<rect x="297.60" y="827.00" width="8.30" height="9.00" fill="#7f7ff0" />
<text x="310.48" y="837.00" font-size="12.90" fill="#333" textLength="37.52" lengthAdjust="spacingAndGlyphs" >Aroma</text>
<rect x="364.30" y="827.00" width="8.30" height="9.00" fill="#ec8080" />
<text x="375.94" y="837.00" font-size="12.90" fill="#333" textLength="35.98" lengthAdjust="spacingAndGlyphs" >Flavor</text>
<path d="M748.7 691.65L748.70 680.45A11.2 11.2 0 0 1 758.40 686.05Z" fill="#1e8c1e"/>
<path d="M748.7 691.65L767.75 680.65A22.0 22.0 0 0 1 767.75 702.65Z" fill="#e52a00"/>
<path d="M748.7 691.65L772.95 705.65A28.0 28.0 0 0 1 748.70 719.65Z" fill="#d4c21c"/>
<path d="M748.7 691.65L748.70 730.35A38.7 38.7 0 0 1 715.18 711.00Z" fill="#ff8a14"/>
<path d="M748.7 691.65L684.35 728.80A74.3 74.3 0 0 1 684.35 654.50Z" fill="#4b4bf0"/>
<path d="M748.7 691.65L724.71 677.80A27.7 27.7 0 0 1 748.70 663.95Z" fill="#d24ed2"/>
<g fill="none" stroke="#000" stroke-opacity="0.34" stroke-width="0.8">
<circle cx="748.7" cy="691.65" r="11.90"/>
<circle cx="748.7" cy="691.65" r="23.80"/>
<circle cx="748.7" cy="691.65" r="35.70"/>
<circle cx="748.7" cy="691.65" r="47.60"/>
<circle cx="748.7" cy="691.65" r="59.50"/>
<circle cx="748.7" cy="691.65" r="71.40"/>
<circle cx="748.7" cy="691.65" r="83.30"/>
<line x1="748.7" y1="691.65" x2="820.84" y2="650.00"/>
<line x1="748.7" y1="691.65" x2="820.84" y2="733.30"/>
<line x1="748.7" y1="691.65" x2="676.56" y2="733.30"/>
<line x1="748.7" y1="691.65" x2="676.56" y2="650.00"/>
</g>
<line x1="748.7" y1="608.35" x2="748.7" y2="774.9499999999999" stroke="#666" stroke-width="1.1"/>
<text x="634.31" y="610.10" font-size="13.77" fill="#d24ed2" textLength="68.74" lengthAdjust="spacingAndGlyphs" >Relaxation</text>
<text x="775.39" y="610.10" font-size="13.77" fill="#1e8c1e" textLength="36.69" lengthAdjust="spacingAndGlyphs" >Focus</text>
<text x="839.23" y="689.00" font-size="13.77" fill="#e03010" textLength="45.30" lengthAdjust="spacingAndGlyphs" >Energy</text>
<text x="605.66" y="704.00" font-size="13.77" fill="#4b4bf0" textLength="51.54" lengthAdjust="spacingAndGlyphs" >Comfort</text>
<text x="686.68" y="782.30" font-size="13.77" fill="#ff8a14" textLength="33.05" lengthAdjust="spacingAndGlyphs" >Calm</text>
<text x="794.14" y="782.30" font-size="13.77" fill="#d4c21c" textLength="68.02" lengthAdjust="spacingAndGlyphs" >Inspiration</text>
<text x="596.92" y="835.00" font-size="11.01" fill="#222" textLength="306.21" lengthAdjust="spacingAndGlyphs" >*May vary with individual, dose, and time after administration.</text>
<rect x="48.00" y="863.00" width="904.00" height="418.00" fill="#c9c9c9" />
<rect x="49.80" y="864.80" width="900.40" height="414.40" fill="#fff" />
<rect x="48.00" y="863.00" width="34.30" height="418.00" fill="#cdcdd0" />
<text transform="translate(72.10,1131.36) rotate(-90)" x="0" y="0" font-size="18.99" fill="#222" textLength="106.64" lengthAdjust="spacingAndGlyphs">PHYTOPRINT</text>
<text transform="translate(65.6,1023.5) rotate(-90)" x="0" y="0" font-size="12" fill="#222">®</text>
<text x="152.98" y="892.70" font-size="14.49" fill="#9e1b1b" textLength="73.38" lengthAdjust="spacingAndGlyphs" >terpinolene</text>
<rect x="234.50" y="882.20" width="5.50" height="12.00" fill="#a50f0f" />
<text x="247.04" y="892.70" font-size="13.04" fill="#aaaaaa" textLength="40.67" lengthAdjust="spacingAndGlyphs" >0.02%</text>
<text x="128.28" y="915.70" font-size="14.49" fill="#e02424" textLength="98.07" lengthAdjust="spacingAndGlyphs" >α-phellandrene</text>
<rect x="234.50" y="905.20" width="1.10" height="12.00" fill="#f07070" />
<text x="156.16" y="938.70" font-size="14.49" fill="#e04a1a" textLength="70.20" lengthAdjust="spacingAndGlyphs" >β-ocimene</text>
<rect x="234.50" y="928.20" width="4.50" height="12.00" fill="#f26522" />
<text x="246.04" y="938.70" font-size="13.04" fill="#aaaaaa" textLength="40.67" lengthAdjust="spacingAndGlyphs" >0.01%</text>
<text x="181.37" y="961.70" font-size="14.49" fill="#c8661a" textLength="44.98" lengthAdjust="spacingAndGlyphs" >carene</text>
<rect x="234.50" y="951.20" width="8.90" height="12.00" fill="#ff6a1a" />
<text x="250.44" y="961.70" font-size="13.04" fill="#aaaaaa" textLength="40.67" lengthAdjust="spacingAndGlyphs" >0.03%</text>
<text x="165.49" y="984.70" font-size="14.49" fill="#8c7a10" textLength="60.88" lengthAdjust="spacingAndGlyphs" >limonene</text>
<rect x="234.50" y="974.20" width="179.00" height="12.00" fill="#fed518" />
<text x="420.54" y="984.70" font-size="13.04" fill="#aaaaaa" textLength="40.67" lengthAdjust="spacingAndGlyphs" >0.65%</text>
<text x="152.65" y="1007.70" font-size="14.49" fill="#6a8a1a" textLength="73.71" lengthAdjust="spacingAndGlyphs" >γ-terpinene</text>
<rect x="234.50" y="997.20" width="3.80" height="12.00" fill="#a8d650" />
<text x="245.34" y="1007.70" font-size="13.04" fill="#aaaaaa" textLength="40.67" lengthAdjust="spacingAndGlyphs" >0.01%</text>
<text x="169.09" y="1030.70" font-size="14.49" fill="#2e922e" textLength="57.26" lengthAdjust="spacingAndGlyphs" >α-pinene</text>
<rect x="234.50" y="1020.20" width="64.70" height="12.00" fill="#66cc55" />
<text x="306.24" y="1030.70" font-size="13.04" fill="#aaaaaa" textLength="40.67" lengthAdjust="spacingAndGlyphs" >0.23%</text>
<text x="151.28" y="1053.70" font-size="14.49" fill="#1a8e2e" textLength="75.08" lengthAdjust="spacingAndGlyphs" >α-terpinene</text>
<rect x="234.50" y="1043.20" width="1.40" height="12.00" fill="#88cc99" />
<text x="168.98" y="1076.70" font-size="14.49" fill="#0c7a40" textLength="57.37" lengthAdjust="spacingAndGlyphs" >β-pinene</text>
<rect x="234.50" y="1066.20" width="15.80" height="12.00" fill="#0a8a48" />
<text x="257.34" y="1076.70" font-size="13.04" fill="#aaaaaa" textLength="40.67" lengthAdjust="spacingAndGlyphs" >0.05%</text>
<text x="178.29" y="1099.70" font-size="14.49" fill="#1e8c8c" textLength="48.42" lengthAdjust="spacingAndGlyphs" >fenchol</text>
<rect x="234.50" y="1089.20" width="62.30" height="12.00" fill="#33cdd5" />
<text x="303.84" y="1099.70" font-size="13.04" fill="#aaaaaa" textLength="40.67" lengthAdjust="spacingAndGlyphs" >0.22%</text>
<text x="157.37" y="1122.70" font-size="14.49" fill="#2a8aa0" textLength="68.98" lengthAdjust="spacingAndGlyphs" >camphene</text>
<rect x="234.50" y="1112.20" width="11.90" height="12.00" fill="#5aa0b5" />
<text x="253.44" y="1122.70" font-size="13.04" fill="#aaaaaa" textLength="40.67" lengthAdjust="spacingAndGlyphs" >0.04%</text>
<text x="155.27" y="1145.70" font-size="14.49" fill="#2a88b4" textLength="71.44" lengthAdjust="spacingAndGlyphs" >α-terpineol</text>
<rect x="234.50" y="1135.20" width="32.50" height="12.00" fill="#1aa8dc" />
<text x="274.02" y="1145.70" font-size="13.04" fill="#aaaaaa" textLength="40.70" lengthAdjust="spacingAndGlyphs" >0.11%</text>
<text x="148.28" y="1168.70" font-size="14.49" fill="#1a88c8" textLength="78.07" lengthAdjust="spacingAndGlyphs" >α-humulene</text>
<rect x="234.50" y="1158.20" width="240.90" height="12.00" fill="#00a0e6" />
<text x="482.44" y="1168.70" font-size="13.04" fill="#aaaaaa" textLength="40.67" lengthAdjust="spacingAndGlyphs" >0.87%</text>
<text x="122.58" y="1191.70" font-size="14.49" fill="#3a50c8" textLength="103.77" lengthAdjust="spacingAndGlyphs" >β-caryophyllene</text>
<rect x="234.50" y="1181.20" width="639.00" height="12.00" fill="#4a64c8" />
<text x="880.38" y="1191.70" font-size="13.04" fill="#aaaaaa" textLength="40.84" lengthAdjust="spacingAndGlyphs" >2.32%</text>
<text x="178.56" y="1214.70" font-size="14.49" fill="#9a66ee" textLength="48.18" lengthAdjust="spacingAndGlyphs" >linalool</text>
<rect x="234.50" y="1204.20" width="114.20" height="12.00" fill="#9a6af0" />
<text x="355.74" y="1214.70" font-size="13.04" fill="#aaaaaa" textLength="40.67" lengthAdjust="spacingAndGlyphs" >0.41%</text>
<text x="97.68" y="1237.70" font-size="14.49" fill="#5a1840" textLength="128.67" lengthAdjust="spacingAndGlyphs" >caryophyllene oxide</text>
<rect x="234.50" y="1227.20" width="1.50" height="12.00" fill="#8a3a6a" />
<text x="169.52" y="1260.70" font-size="14.49" fill="#9a2070" textLength="56.84" lengthAdjust="spacingAndGlyphs" >myrcene</text>
<rect x="234.50" y="1250.20" width="38.30" height="12.00" fill="#9a2070" />
<text x="279.84" y="1260.70" font-size="13.04" fill="#aaaaaa" textLength="40.67" lengthAdjust="spacingAndGlyphs" >0.14%</text>
<text x="55.55" y="1297.10" font-size="9.57" fill="#222" textLength="888.51" lengthAdjust="spacingAndGlyphs" >Copyright © 2013, 2023 BHC Group, LLC. Report protected by a federal copyright registration. PHYTOPRINT® and PHYTOFACTS® are registered trademarks of Napro Research, LLC. Used under license by SC Labs. This report</text>
<text x="336.01" y="1306.70" font-size="9.57" fill="#222" textLength="328.80" lengthAdjust="spacingAndGlyphs" >was generated utilizing patented methods. U.S. Pat. 10,830,780. All rights reserved.</text>
</svg>
</body></html>
